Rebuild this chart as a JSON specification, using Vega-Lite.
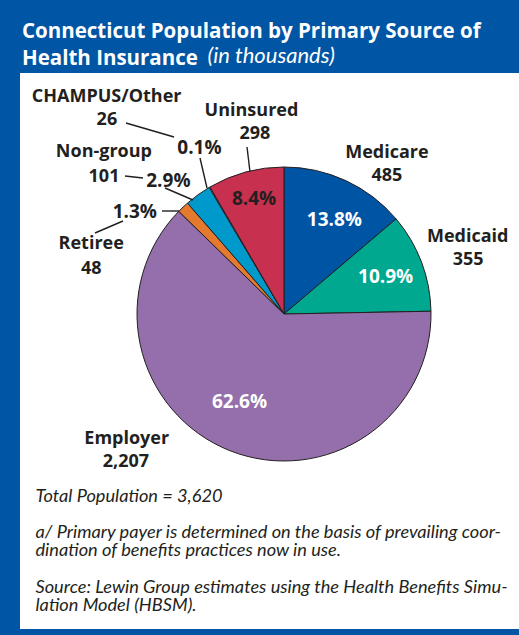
{
  "$schema": "https://vega.github.io/schema/vega-lite/v6.json",
  "width": 499,
  "height": 556,
  "autosize": {"type": "none"},
  "padding": {"left": 20, "top": 73, "right": 0, "bottom": 6},
  "background": "#0055A4",
  "config": {
    "view": {"fill": "white", "stroke": null},
    "font": "Open Sans",
    "text": {"font": "Open Sans", "fontSize": 18, "fontWeight": "bold", "color": "#231F20", "align": "center", "baseline": "middle"},
    "rule": {"color": "#231F20", "strokeWidth": 1.4}
  },
  "title": {
    "text": ["Connecticut Population by Primary Source of", "Health Insurance"],
    "anchor": "start",
    "frame": "group",
    "dx": 2,
    "offset": -25,
    "color": "white",
    "font": "Open Sans",
    "fontSize": 20.5,
    "fontWeight": "bold",
    "lineHeight": 27
  },
  "data": {
    "values": [
      {"category": "Medicare", "population": 485, "share": 0.138, "order": 1},
      {"category": "Medicaid", "population": 355, "share": 0.109, "order": 2},
      {"category": "Employer", "population": 2207, "share": 0.626, "order": 3},
      {"category": "Retiree", "population": 48, "share": 0.013, "order": 4},
      {"category": "Non-group", "population": 101, "share": 0.029, "order": 5},
      {"category": "CHAMPUS/Other", "population": 26, "share": 0.001, "order": 6},
      {"category": "Uninsured", "population": 298, "share": 0.084, "order": 7}
    ]
  },
  "transform": [
    {"stack": "share", "groupby": [], "sort": [{"field": "order", "order": "ascending"}], "as": ["start", "end"]}
  ],
  "encoding": {
    "x": {
      "datum": 0,
      "type": "quantitative",
      "scale": {"domain": [-264, 235], "nice": false, "zero": false},
      "axis": {
        "title": ["Total Population = 3,620", "\u2800", "a/ Primary payer is determined on the basis of prevailing coor-", "dination of benefits practices now in use.", "\u2800", "Source: Lewin Group estimates using the Health Benefits Simu-", "lation Model (HBSM)."],
        "domain": false, "ticks": false, "labels": false, "grid": false,
        "titleFont": "Lato", "titleFontSize": 18.2, "titleFontStyle": "italic", "titleFontWeight": "normal",
        "titleColor": "#231F20", "titleLineHeight": 18.2, "titleAnchor": "start", "titleAlign": "left",
        "titleBaseline": "alphabetic", "titleX": 15, "titleY": -128, "titleLimit": 700, "titleAngle": 0
      }
    },
    "y": {
      "datum": 0,
      "type": "quantitative",
      "scale": {"domain": [-315, 241], "nice": false, "zero": false},
      "axis": {
        "title": "(in thousands)",
        "domain": false, "ticks": false, "labels": false, "grid": false,
        "titleFont": "Lato", "titleFontSize": 22, "titleFontStyle": "italic", "titleFontWeight": "normal",
        "titleColor": "white", "titleAlign": "left",
        "titleBaseline": "alphabetic", "titleX": 187, "titleY": -11, "titleLimit": 700, "titleAngle": 0
      }
    }
  },
  "layer": [
    {
      "mark": {"type": "arc", "outerRadius": 147, "stroke": "#231F20", "strokeWidth": 1},
      "encoding": {
        "theta": {"field": "start", "type": "quantitative", "stack": null, "scale": {"domain": [0, 1]}},
        "theta2": {"field": "end"},
        "color": {
          "field": "category", "type": "nominal", "legend": null,
          "scale": {
            "domain": ["Medicare", "Medicaid", "Employer", "Retiree", "Non-group", "CHAMPUS/Other", "Uninsured"],
            "range": ["#0054A4", "#00A88F", "#946FAB", "#E57A2F", "#0099CC", "#FFFFFF", "#C7304F"]
          }
        }
      }
    },
    {
      "encoding": {
        "theta": {"field": "start", "type": "quantitative", "scale": {"domain": [0, 1]}}
      },
      "layer": [
        {"transform": [{"filter": "datum.category === 'Medicare'"}], "mark": {"type": "text", "radius": 107, "thetaOffset": 0.490, "fontSize": 19, "color": "white"}, "encoding": {"text": {"field": "share", "format": ".1%"}}},
        {"transform": [{"filter": "datum.category === 'Medicaid'"}], "mark": {"type": "text", "radius": 108, "thetaOffset": 0.358, "fontSize": 19, "color": "white"}, "encoding": {"text": {"field": "share", "format": ".1%"}}},
        {"transform": [{"filter": "datum.category === 'Employer'"}], "mark": {"type": "text", "radius": 99, "thetaOffset": 2.056, "fontSize": 19, "color": "white"}, "encoding": {"text": {"field": "share", "format": ".1%"}}},
        {"transform": [{"filter": "datum.category === 'Uninsured'"}], "mark": {"type": "text", "radius": 119, "thetaOffset": 0.273, "fontSize": 19}, "encoding": {"text": {"field": "share", "format": ".1%"}}},
        {"transform": [{"filter": "datum.category === 'Retiree'"}], "mark": {"type": "text", "radius": 181, "thetaOffset": -0.171, "fontSize": 19}, "encoding": {"text": {"field": "share", "format": ".1%"}}},
        {"transform": [{"filter": "datum.category === 'Non-group'"}], "mark": {"type": "text", "radius": 176.5, "thetaOffset": 0.002, "fontSize": 19}, "encoding": {"text": {"field": "share", "format": ".1%"}}},
        {"transform": [{"filter": "datum.category === 'CHAMPUS/Other'"}], "mark": {"type": "text", "radius": 186, "thetaOffset": 0.062, "fontSize": 19}, "encoding": {"text": {"field": "share", "format": ".1%"}}},

        {"transform": [{"filter": "datum.category === 'Medicare'"}], "mark": {"type": "text", "radius": 191, "thetaOffset": 0.569}, "encoding": {"text": {"field": "category"}}},
        {"transform": [{"filter": "datum.category === 'Medicare'"}], "mark": {"type": "text", "radius": 172, "thetaOffset": 0.641}, "encoding": {"text": {"field": "population", "format": ","}}},
        {"transform": [{"filter": "datum.category === 'Medicaid'"}], "mark": {"type": "text", "radius": 199, "thetaOffset": 0.309}, "encoding": {"text": {"field": "category"}}},
        {"transform": [{"filter": "datum.category === 'Medicaid'"}], "mark": {"type": "text", "radius": 192, "thetaOffset": 0.418}, "encoding": {"text": {"field": "population", "format": ","}}},
        {"transform": [{"filter": "datum.category === 'Employer'"}], "mark": {"type": "text", "radius": 201, "thetaOffset": 2.488}, "encoding": {"text": {"field": "category"}}},
        {"transform": [{"filter": "datum.category === 'Employer'"}], "mark": {"type": "text", "radius": 216.5, "thetaOffset": 2.408}, "encoding": {"text": {"field": "population", "format": ","}}},
        {"transform": [{"filter": "datum.category === 'Retiree'"}], "mark": {"type": "text", "radius": 205, "thetaOffset": -0.426}, "encoding": {"text": {"field": "category"}}},
        {"transform": [{"filter": "datum.category === 'Retiree'"}], "mark": {"type": "text", "radius": 198, "thetaOffset": -0.541}, "encoding": {"text": {"field": "population", "format": ","}}},
        {"transform": [{"filter": "datum.category === 'Non-group'"}], "mark": {"type": "text", "radius": 242, "thetaOffset": -0.123}, "encoding": {"text": {"field": "category"}}},
        {"transform": [{"filter": "datum.category === 'Non-group'"}], "mark": {"type": "text", "radius": 226, "thetaOffset": -0.205}, "encoding": {"text": {"field": "population", "format": ","}}},
        {"transform": [{"filter": "datum.category === 'CHAMPUS/Other'"}], "mark": {"type": "text", "radius": 280, "thetaOffset": -0.152}, "encoding": {"text": {"field": "category"}}},
        {"transform": [{"filter": "datum.category === 'CHAMPUS/Other'"}], "mark": {"type": "text", "radius": 262.6, "thetaOffset": -0.206}, "encoding": {"text": {"field": "population", "format": ","}}},
        {"transform": [{"filter": "datum.category === 'Uninsured'"}], "mark": {"type": "text", "radius": 205.6, "thetaOffset": 0.369}, "encoding": {"text": {"field": "category"}}},
        {"transform": [{"filter": "datum.category === 'Uninsured'"}], "mark": {"type": "text", "radius": 182.8, "thetaOffset": 0.368}, "encoding": {"text": {"field": "population", "format": ","}}}
      ]
    },
    {
      "layer": [
        {"transform": [{"filter": "datum.category === 'Uninsured'"}], "mark": {"type": "rule"}, "encoding": {"x": {"datum": -37}, "y": {"datum": 167}, "x2": {"datum": -34}, "y2": {"datum": 142}}},
        {"transform": [{"filter": "datum.category === 'CHAMPUS/Other'"}], "mark": {"type": "rule"}, "encoding": {"x": {"datum": -84}, "y": {"datum": 156}, "x2": {"datum": -77}, "y2": {"datum": 126}}},
        {"transform": [{"filter": "datum.category === 'CHAMPUS/Other'"}], "mark": {"type": "rule"}, "encoding": {"x": {"datum": -158}, "y": {"datum": 191}, "x2": {"datum": -110}, "y2": {"datum": 177}}},
        {"transform": [{"filter": "datum.category === 'Non-group'"}], "mark": {"type": "rule"}, "encoding": {"x": {"datum": -159}, "y": {"datum": 138}, "x2": {"datum": -141}, "y2": {"datum": 136}}},
        {"transform": [{"filter": "datum.category === 'Non-group'"}], "mark": {"type": "rule"}, "encoding": {"x": {"datum": -119}, "y": {"datum": 126}, "x2": {"datum": -91}, "y2": {"datum": 114}}},
        {"transform": [{"filter": "datum.category === 'Retiree'"}], "mark": {"type": "rule"}, "encoding": {"x": {"datum": -122}, "y": {"datum": 103}, "x2": {"datum": -105}, "y2": {"datum": 103}}},
        {"transform": [{"filter": "datum.category === 'Retiree'"}], "mark": {"type": "rule"}, "encoding": {"x": {"datum": -189}, "y": {"datum": 81}, "x2": {"datum": -161}, "y2": {"datum": 93}}}
      ]
    }
  ]
}
